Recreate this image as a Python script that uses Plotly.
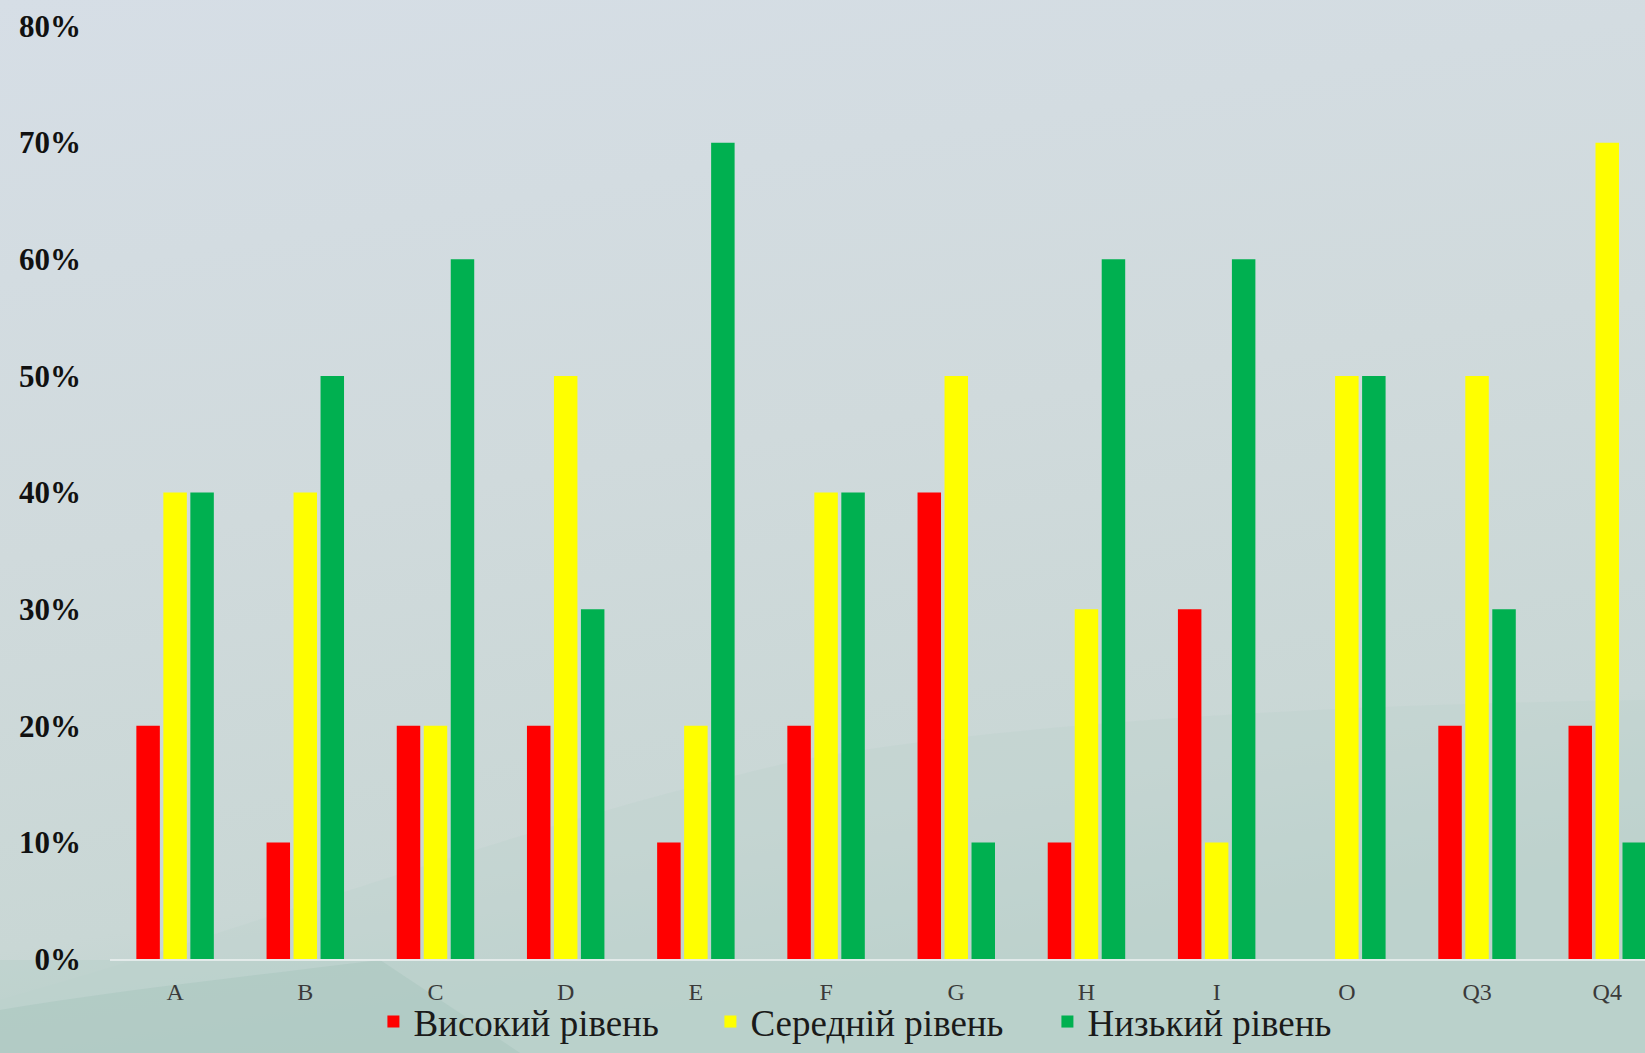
import plotly.graph_objects as go

categories = ["A", "B", "C", "D", "E", "F", "G", "H", "I", "O", "Q3", "Q4"]
high = [0.20, 0.10, 0.20, 0.20, 0.10, 0.20, 0.40, 0.10, 0.30, 0.00, 0.20, 0.20]
medium = [0.40, 0.40, 0.20, 0.50, 0.20, 0.40, 0.50, 0.30, 0.10, 0.50, 0.50, 0.70]
low = [0.40, 0.50, 0.60, 0.30, 0.70, 0.40, 0.10, 0.60, 0.60, 0.50, 0.30, 0.10]
series_names = ["Високий рівень", "Середній рівень", "Низький рівень"]
y_ticks = [0, 0.1, 0.2, 0.3, 0.4, 0.5, 0.6, 0.7, 0.8]

colors = ["#ff0000", "#ffff00", "#00b050"]
FONT = "Liberation Serif, Times New Roman, serif"

bg_svg = (
    "data:image/svg+xml;utf8,"
    "<svg xmlns='http://www.w3.org/2000/svg' width='1645' height='1053' preserveAspectRatio='none'>"
    "<defs>"
    "<linearGradient id='g' x1='0' y1='0' x2='0.25' y2='1'>"
    "<stop offset='0' stop-color='%23d6dee6'/>"
    "<stop offset='0.5' stop-color='%23d0dadc'/>"
    "<stop offset='0.85' stop-color='%23c9d7d5'/>"
    "<stop offset='1' stop-color='%23bcd1cc'/>"
    "</linearGradient>"
    "</defs>"
    "<rect width='1645' height='1053' fill='url(%23g)'/>"
    "<path d='M0 1053 L0 1000 C250 930 500 830 800 760 C1000 725 1300 705 1645 700 L1645 1053 Z' fill='%23bfd2ce' fill-opacity='0.45'/>"
    "<rect x='0' y='960' width='1645' height='93' fill='%23b8cfc9' fill-opacity='0.5'/>"
    "<path d='M0 1053 L0 1010 C120 990 260 975 380 960 L520 1053 Z' fill='%23a7c5bd' fill-opacity='0.5'/>"
    "</svg>"
)

fig = go.Figure()
for name, vals, col in zip(series_names, [high, medium, low], colors):
    fig.add_trace(go.Bar(x=categories, y=vals, name=name, marker=dict(color=col, line=dict(width=0))))

fig.update_layout(
    width=1645,
    height=1053,
    margin=dict(l=110, r=0, t=26, b=94, autoexpand=False),
    barmode="group",
    bargap=0.378,
    bargroupgap=0.13,
    paper_bgcolor="#cdd9da",
    plot_bgcolor="rgba(0,0,0,0)",
    font=dict(family=FONT, color="#222222"),
    images=[dict(source=bg_svg, xref="paper", yref="paper", x=-110/1535, y=1 + 26/933,
                 sizex=1645/1535, sizey=1053/933, xanchor="left", yanchor="top",
                 sizing="stretch", layer="below")],
    legend=dict(
        orientation="h",
        xref="container", yref="container",
        x=0.227, xanchor="left",
        y=-0.008, yanchor="bottom",
        font=dict(family=FONT, size=37, color="#1a1a1a"),
        bgcolor="rgba(0,0,0,0)",
        itemwidth=30,
        entrywidth=292,
        tracegroupgap=0,
    ),
    xaxis=dict(
        range=[-0.5, 11.29],
        showgrid=False,
        showline=True,
        linecolor="rgba(235,240,240,0.8)",
        linewidth=2,
        ticks="",
        ticklabelstandoff=10,
        tickfont=dict(family=FONT, size=24, color="#3a3a3a"),
        zeroline=False,
    ),
    yaxis=dict(
        range=[0, 0.8],
        tickvals=y_ticks,
        tickformat=".0%",
        showgrid=False,
        zeroline=False,
        showline=False,
        ticks="",
        ticklabelstandoff=28,
        tickfont=dict(family=FONT, size=31, color="#111111", weight="bold"),
    ),
)

fig.write_html("out.html", config={"displayModeBar": False},
               post_script="document.body.style.margin='0px';document.body.style.overflow='hidden';")
